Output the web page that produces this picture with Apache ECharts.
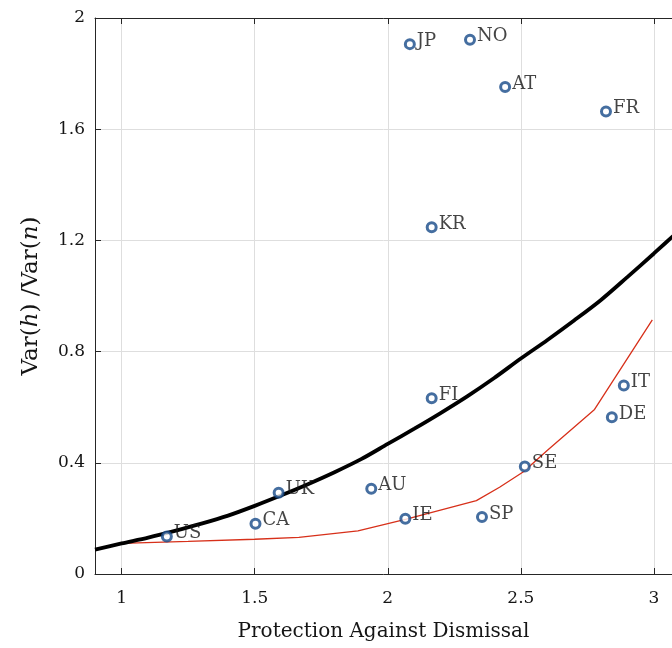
<!DOCTYPE html>
<html>
<head>
<meta charset="utf-8">
<script src="https://cdn.jsdelivr.net/npm/echarts@6/dist/echarts.min.js"></script>
<style>html,body{margin:0;padding:0;background:#fff}#c{width:672px;height:648px}</style>
</head>
<body>
<div id="c"></div>
<script>
// Country observations
const countries = ["US","CA","UK","AU","IE","SP","SE","FI","KR","JP","NO","AT","FR","IT","DE"];
const protection = [1.170,1.503,1.590,1.938,2.066,2.354,2.515,2.165,2.165,2.083,2.309,2.441,2.820,2.887,2.842];
const varRatio = [0.135,0.181,0.292,0.307,0.199,0.205,0.387,0.632,1.247,1.906,1.922,1.752,1.664,0.678,0.564];

// Black fitted curve
const curveX = [0.9,1.0,1.1,1.2,1.3,1.4,1.5,1.6,1.7,1.8,1.9,2.0,2.1,2.2,2.3,2.4,2.5,2.6,2.7,2.8,2.9,3.0,3.1];
const curveY = [0.088,0.110,0.131,0.155,0.181,0.210,0.245,0.283,0.323,0.366,0.413,0.468,0.523,0.580,0.640,0.705,0.775,0.842,0.912,0.985,1.068,1.153,1.240];

// Red model line
const redX = [1.0,1.25,1.5,1.666,1.888,2.07,2.333,2.42,2.51,2.6,2.777,2.994];
const redY = [0.110,0.117,0.125,0.132,0.155,0.197,0.264,0.312,0.368,0.445,0.592,0.914];

// Ticks
const xTicks = [1,1.5,2,2.5,3];
const yTicks = [0,0.4,0.8,1.2,1.6,2];

const FONT = "DejaVu Serif";
const AX = "#262626";
const TXT = "#151515";

const chart = echarts.init(document.getElementById('c'), null, {renderer:'canvas'});
const option = {
  animation:false,
  backgroundColor:'#fff',
  grid:{left:95, top:18, height:556, width:577, containLabel:false},
  xAxis:[{
    type:'value', min:0.9, max:3.068, position:'bottom',
    axisLine:{show:true, onZero:false, lineStyle:{color:AX, width:1}},
    axisTick:{show:true, inside:true, length:6, customValues:xTicks, lineStyle:{color:AX}},
    axisLabel:{customValues:xTicks, color:TXT, fontFamily:FONT, fontSize:17, margin:16,
      formatter:v=>String(v)},
    splitLine:{show:true, lineStyle:{color:'#dedede', width:1}},
    name:'Protection Against Dismissal', nameLocation:'middle', nameGap:48,
    nameTextStyle:{color:TXT, fontFamily:FONT, fontSize:20}
  },{
    type:'value', min:0.9, max:3.068, position:'top',
    axisLine:{show:true, onZero:false, lineStyle:{color:AX, width:1}},
    axisTick:{show:true, inside:true, length:6, customValues:xTicks, lineStyle:{color:AX}},
    axisLabel:{show:false}, splitLine:{show:false}
  }],
  yAxis:[{
    type:'value', min:0, max:2, interval:0.4,
    axisLine:{show:true, onZero:false, lineStyle:{color:AX, width:1}},
    axisTick:{show:true, inside:true, length:6, lineStyle:{color:AX}},
    axisLabel:{color:TXT, fontFamily:FONT, fontSize:17, margin:10, formatter:v=>String(+v.toFixed(1))},
    splitLine:{show:true, lineStyle:{color:'#dedede', width:1}},
    name:'{r|Var(}{i|h}{r|) /Var(}{i|n}{r|)}', nameLocation:'middle', nameGap:52, nameRotate:90,
    nameTextStyle:{color:TXT, fontFamily:FONT, fontSize:23,
      rich:{r:{fontFamily:FONT, fontSize:23, color:TXT}, i:{fontFamily:FONT, fontSize:23, fontStyle:'italic', color:TXT}}}
  }],
  series:[
    {type:'line', data:redX.map((x,i)=>[x,redY[i]]), showSymbol:false, symbol:'none',
     lineStyle:{color:'#d7301a', width:1.3}, z:2},
    {type:'line', data:curveX.map((x,i)=>[x,curveY[i]]), showSymbol:false, symbol:'none', smooth:0.3,
     lineStyle:{color:'#000', width:3.8}, z:3},
    {type:'scatter', data:countries.map((c,i)=>({value:[protection[i],varRatio[i]], name:c})),
     symbol:'circle', symbolSize:9,
     itemStyle:{color:'#fff', borderColor:'#174a88', borderWidth:3},
     label:{show:true, position:'right', distance:1, offset:[0,-3], formatter:p=>p.name,
       color:TXT, fontFamily:FONT, fontSize:18},
     z:5}
  ]
};
chart.setOption(option);
</script>
</body>
</html>
